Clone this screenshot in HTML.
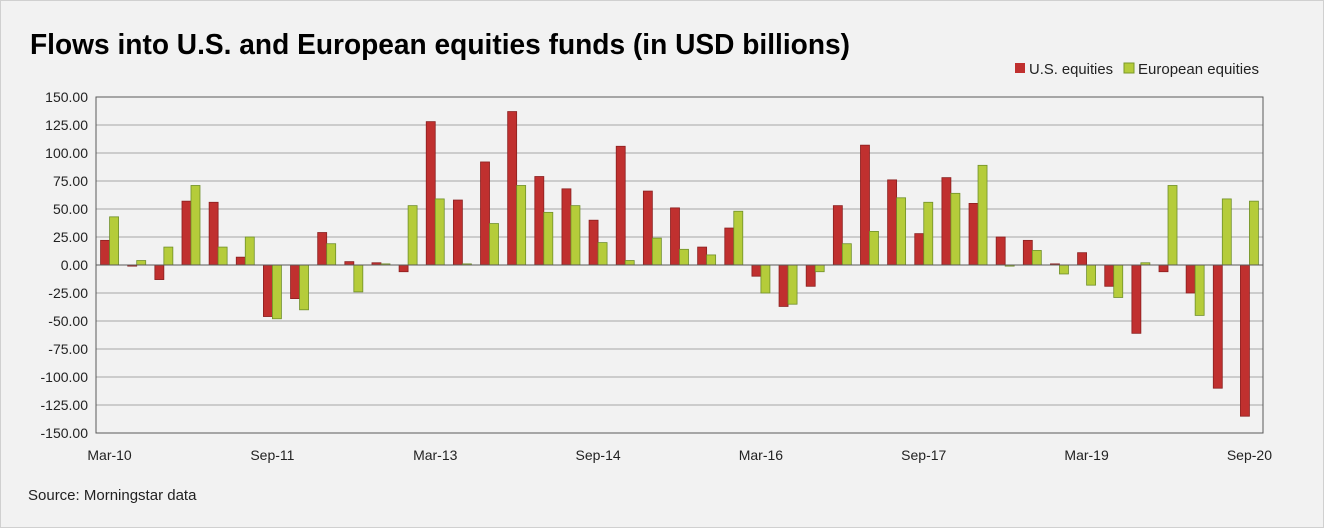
<!DOCTYPE html>
<html><head><meta charset="utf-8"><style>
body{margin:0;background:#f2f2f2;}
svg{display:block;font-family:"Liberation Sans",sans-serif;}
</style></head><body>
<svg id="c" width="1324" height="528" xmlns="http://www.w3.org/2000/svg">
<rect x="0.5" y="0.5" width="1323" height="527" fill="#f2f2f2" stroke="#d0d0d0"/>
<text x="30" y="54" font-size="29" font-weight="bold" fill="#000" textLength="820" lengthAdjust="spacingAndGlyphs">Flows into U.S. and European equities funds (in USD billions)</text>
<rect x="1015" y="63" width="10" height="10" fill="#c0302f"/>
<text x="1029" y="74" font-size="15" fill="#222" textLength="84" lengthAdjust="spacingAndGlyphs">U.S. equities</text>
<rect x="1124" y="63" width="10" height="10" fill="#b5cc3a" stroke="#7a9a2a"/>
<text x="1138" y="74" font-size="15" fill="#222" textLength="121" lengthAdjust="spacingAndGlyphs">European equities</text>
<text x="28" y="500" font-size="15" fill="#222">Source: Morningstar data</text>
<g id="g"></g>
</svg>
<script>
var us=[22,-1,-13,57,56,7,-46,-30,29,3,2,-6,128,58,92,137,79,68,40,106,66,51,16,33,-10,-37,-19,53,107,76,28,78,55,25,22,1,11,-19,-61,-6,-25,-110,-135];
var eu=[43,4,16,71,16,25,-48,-40,19,-24,1,53,59,1,37,71,47,53,20,4,24,14,9,48,-25,-35,-6,19,30,60,56,64,89,-1,13,-8,-18,-29,2,71,-45,59,57];
var L=96,R=1263,T=97,B=433,z=265,k=1.12,w=(R-L)/43,s='';
for(var v=150;v>=-150;v-=25){var y=z-v*k;s+='<line x1="'+L+'" x2="'+R+'" y1="'+y+'" y2="'+y+'" stroke="#a6a6a6" stroke-width="1"/>';
s+='<text x="'+(L-8)+'" y="'+(y+5)+'" font-size="14" text-anchor="end" fill="#222">'+v.toFixed(2)+'</text>';}
s+='<rect x="'+L+'" y="'+T+'" width="'+(R-L)+'" height="'+(B-T)+'" fill="none" stroke="#595959"/>';
for(var i=0;i<43;i++){var c=L+(i+0.5)*w;
function bar(x,val,f,st){var y=val>=0?z-val*k:z,h=Math.max(Math.abs(val)*k,0.8);s+='<rect x="'+x+'" y="'+y+'" width="9" height="'+h+'" fill="'+f+'" stroke="'+st+'" stroke-width="0.8"/>';}
bar(c-9,us[i],'#c0302f','#8a1f1f');bar(c,eu[i],'#b5cc3a','#6f8f2a');}
s+='<line x1="'+L+'" x2="'+R+'" y1="'+z+'" y2="'+z+'" stroke="#595959"/>';
var lab=['Mar-10','Sep-11','Mar-13','Sep-14','Mar-16','Sep-17','Mar-19','Sep-20'];
for(var j=0;j<8;j++){var c=L+(j*6+0.5)*w;s+='<text x="'+c+'" y="460" font-size="14" text-anchor="middle" fill="#222">'+lab[j]+'</text>';}
document.getElementById('g').innerHTML=s;
</script>
</body></html>
